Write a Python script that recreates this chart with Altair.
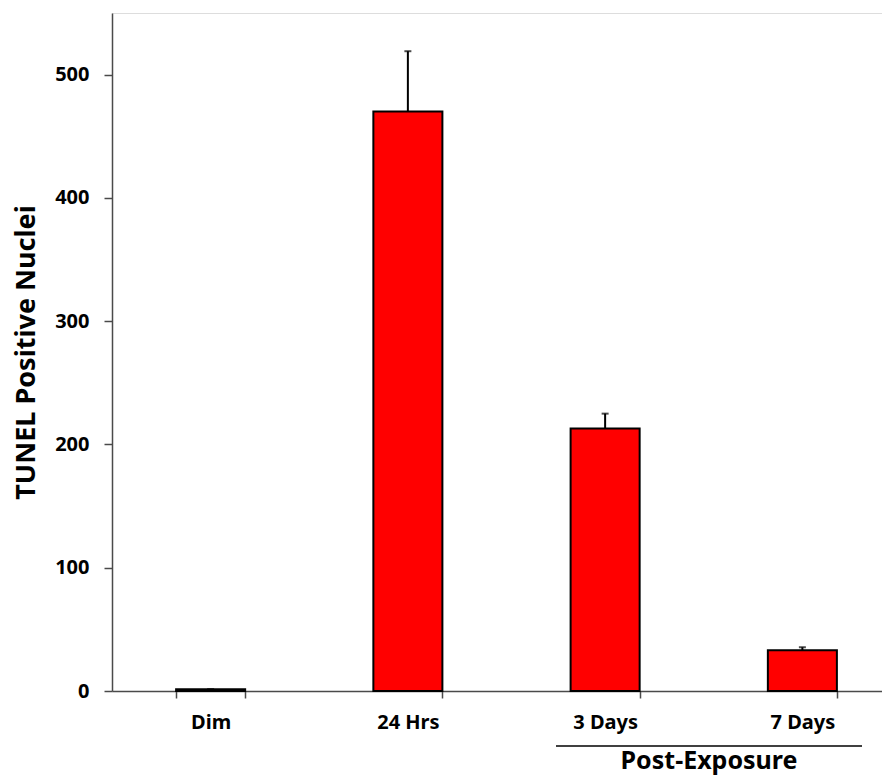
import altair as alt
import pandas as pd

categories = ["Dim", "24 Hrs", "3 Days", "7 Days"]
values = [1.5, 470, 213, 33]
errors = [0, 49, 12, 2.5]
y_ticks = [0, 100, 200, 300, 400, 500]
y_title = "TUNEL Positive Nuclei"
group_label = "Post-Exposure"

df = pd.DataFrame({"cat": categories, "val": values, "err": errors})
df["top"] = df["val"] + df["err"]

FONT = "Noto Sans"
AXIS_COLOR = "#4a4a4a"

xscale = alt.Scale(domain=categories, range=[0, 789], paddingInner=0.65, paddingOuter=0.325)
yscale = alt.Scale(domain=[0, 550], nice=False, zero=True)

x_enc = alt.X(
    "cat:N", scale=xscale, sort=categories,
    axis=alt.Axis(
        title=None, labelAngle=0, tickBand="extent", tickSize=7, tickWidth=1.5,
        domainWidth=1.5, domainColor=AXIS_COLOR, tickColor=AXIS_COLOR,
        labelFont=FONT, labelFontSize=20, labelFontWeight="bold", labelColor="black",
        labelPadding=14,
    ),
)
y_enc = alt.Y(
    "val:Q", scale=yscale,
    axis=alt.Axis(
        values=y_ticks, title=y_title, grid=False, tickSize=8, tickWidth=1.5,
        domainWidth=1.5, domainColor=AXIS_COLOR, tickColor=AXIS_COLOR,
        labelFont=FONT, labelFontSize=20, labelFontWeight="bold", labelColor="black",
        labelPadding=15,
        titleFont=FONT, titleFontSize=27, titleFontWeight="bold", titleColor="black",
        titleAngle=270, titleX=-86, titleY=339, titleAlign="center", titleBaseline="middle",
    ),
)

base = alt.Chart(df)
bars = base.mark_bar(color="#FF0000", stroke="black", strokeWidth=2).encode(x=x_enc, y=y_enc)
err = base.mark_rule(color="black", strokeWidth=2).encode(
    x=alt.X("cat:N", scale=xscale, sort=categories), y=alt.Y("val:Q", scale=yscale), y2="top:Q"
)
caps = base.mark_tick(color="black", thickness=2, size=7).encode(
    x=alt.X("cat:N", scale=xscale, sort=categories), y=alt.Y("top:Q", scale=yscale)
)

ann = alt.Chart(pd.DataFrame({"label": [group_label]}))
bracket = ann.mark_rule(color="black", strokeWidth=1.5).encode(
    x=alt.value(444), x2=alt.value(750), y=alt.value(733)
)
label = ann.mark_text(
    font=FONT, fontSize=25, fontWeight="bold", color="black", align="center", baseline="alphabetic"
).encode(x=alt.value(597), y=alt.value(756), text="label:N")

chart = (
    alt.layer(bars, err, caps, bracket, label)
    .properties(
        width=770, height=678,
        autosize=alt.AutoSizeParams(type="none"),
        padding={"left": 104, "top": 5, "right": 0, "bottom": 84},
    )
    .configure_view(stroke=None)
    .configure(background="white")
)

chart.save("out.html", embed_options={"renderer": "svg", "actions": False})
